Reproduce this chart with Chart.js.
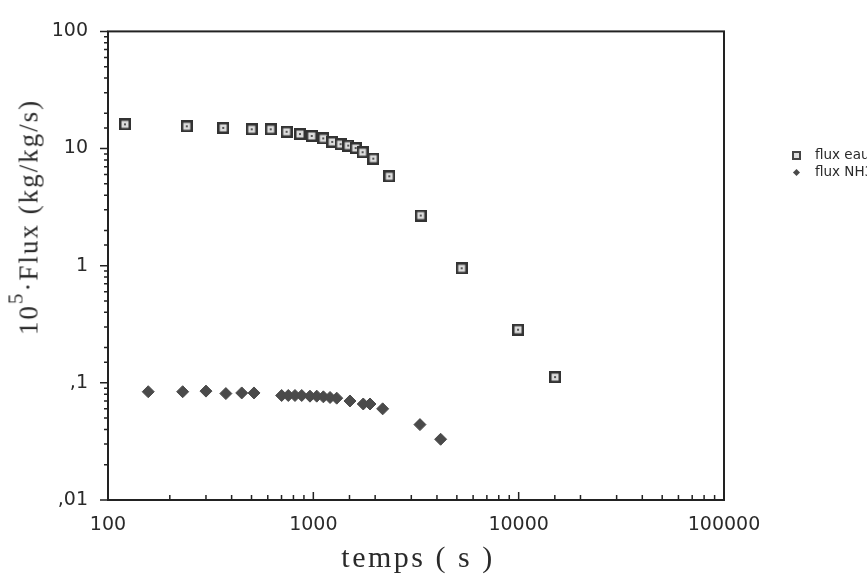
<!DOCTYPE html>
<html>
<head>
<meta charset="utf-8">
<script src="https://cdn.jsdelivr.net/npm/chart.js@4/dist/chart.umd.min.js"></script>
<style>
  body { margin: 0; background: #fff; }
  #wrap { position: relative; width: 867px; height: 580px; }
  #ytitle {
    position: absolute; left: 29px; top: 217px;
    transform: translate(-50%, -50%) rotate(-90deg);
    font-family: "Liberation Serif", serif; font-size: 27px; color: #2a2a2a;
    white-space: nowrap; letter-spacing: 2px;
  }
  #ytitle sup { font-size: 21px; vertical-align: 15px; line-height: 0; }
  #xtitle {
    position: absolute; left: 418px; top: 557px;
    transform: translate(-50%, -50%);
    font-family: "Liberation Serif", serif; font-size: 30px; color: #2a2a2a;
    white-space: nowrap; letter-spacing: 2.5px;
  }
  #legend {
    position: absolute; left: 790px; top: 146px;
    font-family: "DejaVu Sans", sans-serif; font-size: 13.5px; color: #2a2a2a;
  }
  #legend div { height: 17px; line-height: 17px; white-space: nowrap; }
  .mk { display: inline-block; width: 12px; margin-right: 13px; text-align: center; }
  .sq { display: inline-block; width: 5px; height: 5px; border: 2px solid #444; background: #ddd; vertical-align: middle; }
  .dm { display: inline-block; width: 5px; height: 5px; background: #4a4a4a; transform: rotate(45deg); vertical-align: middle; }
</style>
</head>
<body>
<div id="wrap">
  <canvas id="fluxChart" width="867" height="580"></canvas>
  <div id="ytitle">10<sup>5</sup>·Flux (kg/kg/s)</div>
  <div id="xtitle">temps ( s )</div>
  <div id="legend">
    <div><span class="mk"><span class="sq"></span></span>flux eau</div>
    <div><span class="mk"><span class="dm"></span></span>flux NH3</div>
  </div>
</div>
<script>
// temps (s) et flux (10^5 kg/kg/s)
const eauTemps = [121, 242, 364, 501, 620, 741, 861, 982, 1117, 1236, 1358, 1479, 1607, 1738, 1959, 2344, 3334, 5277, 9930, 15030];
const eauFlux  = [16.1, 15.5, 15.0, 14.6, 14.6, 13.9, 13.3, 12.8, 12.2, 11.4, 10.9, 10.6, 10.1, 9.3, 8.2, 5.8, 2.68, 0.95, 0.284, 0.112];

const nh3Temps = [157, 231, 300, 375, 448, 514, 701, 755, 814, 878, 963, 1039, 1119, 1206, 1300, 1508, 1750, 1888, 2176, 3306, 4168];
const nh3Flux  = [0.084, 0.084, 0.085, 0.081, 0.082, 0.082, 0.078, 0.078, 0.078, 0.078, 0.077, 0.077, 0.076, 0.075, 0.074, 0.070, 0.066, 0.066, 0.060, 0.044, 0.033];

const xTickValues = [100, 1000, 10000, 100000];
const xTickLabels = ["100", "1000", "10000", "100000"];
const yTickValues = [0.01, 0.1, 1, 10, 100];
const yTickLabels = [",01", ",1", "1", "10", "100"];

function isDecade(v) {
  const l = Math.log10(v);
  return Math.abs(l - Math.round(l)) < 1e-6;
}
function labelFor(v, values, labels) {
  const i = values.findIndex(t => Math.abs(Math.log10(t) - Math.log10(v)) < 1e-6);
  return i >= 0 ? labels[i] : "";
}

// carré avec point central, comme le symbole du graphique
function squareMark() {
  const c = document.createElement("canvas");
  c.width = 12; c.height = 12;
  const g = c.getContext("2d");
  g.fillStyle = "#333"; g.fillRect(0, 0, 12, 12);
  g.fillStyle = "#dcdcdc"; g.fillRect(2.5, 2.5, 7, 7);
  g.fillStyle = "#555"; g.fillRect(5, 5, 2, 2);
  return c;
}

const frame = {
  id: "frame",
  afterDraw(chart) {
    const ctx = chart.ctx, a = chart.chartArea;
    const xs = chart.scales.x, ys = chart.scales.y;
    ctx.save();
    ctx.strokeStyle = "#222";
    ctx.lineWidth = 2;
    ctx.strokeRect(a.left, a.top, a.right - a.left, a.bottom - a.top);
    ctx.lineWidth = 1.5;
    ctx.beginPath();
    ys.ticks.forEach(t => {
      const py = ys.getPixelForValue(t.value);
      const len = isDecade(t.value) ? 8 : 4;
      ctx.moveTo(a.left - len, py); ctx.lineTo(a.left, py);
    });
    xs.ticks.forEach(t => {
      const px = xs.getPixelForValue(t.value);
      const len = isDecade(t.value) ? 8 : 5;
      ctx.moveTo(px, a.bottom); ctx.lineTo(px, a.bottom - len);
    });
    ctx.stroke();
    ctx.restore();
  }
};

new Chart(document.getElementById("fluxChart"), {
  type: "scatter",
  data: {
    datasets: [
      {
        label: "flux eau",
        data: eauTemps.map((t, i) => ({ x: t, y: eauFlux[i] })),
        pointStyle: squareMark(),
        pointRadius: 6
      },
      {
        label: "flux NH3",
        data: nh3Temps.map((t, i) => ({ x: t, y: nh3Flux[i] })),
        pointStyle: "rectRot",
        pointRadius: 6,
        backgroundColor: "#4a4a4a",
        borderColor: "#4a4a4a",
        borderWidth: 1
      }
    ]
  },
  options: {
    responsive: false,
    animation: false,
    layout: { padding: { top: 23, right: 143, left: 0, bottom: 0 } },
    plugins: { legend: { display: false }, tooltip: { enabled: false } },
    scales: {
      x: {
        type: "logarithmic",
        min: 100, max: 100000,
        grid: { display: false, drawTicks: false },
        border: { display: false },
        ticks: {
          autoSkip: false, maxRotation: 0, padding: 14,
          color: "#2a2a2a",
          font: { family: "DejaVu Sans", size: 19 },
          callback: v => labelFor(v, xTickValues, xTickLabels)
        },
        afterFit(scale) { scale.height = 80; }
      },
      y: {
        type: "logarithmic",
        min: 0.01, max: 100,
        grid: { display: false, drawTicks: false },
        border: { display: false },
        ticks: {
          autoSkip: false, padding: 20,
          color: "#2a2a2a",
          font: { family: "DejaVu Sans", size: 19 },
          callback: v => labelFor(v, yTickValues, yTickLabels)
        },
        afterFit(scale) { scale.width = 108; }
      }
    }
  },
  plugins: [frame]
});
</script>
</body>
</html>
